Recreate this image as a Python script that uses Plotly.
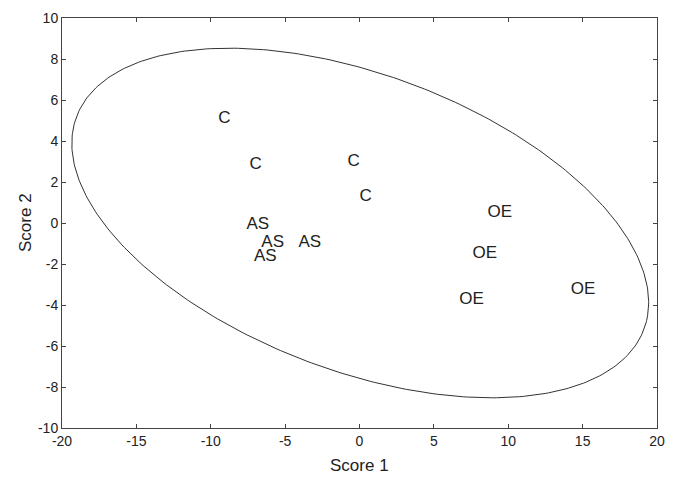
import numpy as np
import plotly.graph_objects as go

# Labelled score points
labels = ["C", "C", "C", "C", "AS", "AS", "AS", "AS", "OE", "OE", "OE", "OE"]
score1 = [-9.5, -7.4, -0.8, 0.0, -7.6, -6.6, -4.1, -7.1, 8.6, 7.6, 6.7, 14.2]
score2 = [5.1, 2.85, 3.0, 1.3, -0.1, -0.95, -0.95, -1.65, 0.5, -1.5, -3.75, -3.25]

# Confidence ellipse parameters
ell_center = (0.05, 0.0)
ell_semi = (19.84, 7.42)
ell_angle_deg = -13.2

x_ticks = [-20, -15, -10, -5, 0, 5, 10, 15, 20]
y_ticks = [-10, -8, -6, -4, -2, 0, 2, 4, 6, 8, 10]

t = np.linspace(0, 2 * np.pi, 400)
th = np.deg2rad(ell_angle_deg)
ex = ell_center[0] + ell_semi[0] * np.cos(t) * np.cos(th) - ell_semi[1] * np.sin(t) * np.sin(th)
ey = ell_center[1] + ell_semi[0] * np.cos(t) * np.sin(th) + ell_semi[1] * np.sin(t) * np.cos(th)

font = "Liberation Sans, Arial, sans-serif"

fig = go.Figure()
fig.add_trace(go.Scatter(x=ex, y=ey, mode="lines",
                         line=dict(color="#333333", width=1), hoverinfo="skip"))
fig.add_trace(go.Scatter(x=score1, y=score2, mode="text", text=labels,
                         textposition="middle right",
                         textfont=dict(family=font, size=17, color="#222222")))

axis_common = dict(showgrid=False, zeroline=False, showline=True, linecolor="#444444",
                   linewidth=1, mirror="ticks", ticks="inside", ticklen=4, automargin=False,
                   tickcolor="#444444", tickfont=dict(family=font, size=14, color="#222222"))

fig.update_layout(
    width=673, height=471,
    margin=dict(l=54, r=24, t=10, b=51),
    paper_bgcolor="white", plot_bgcolor="white",
    showlegend=False,
    xaxis=dict(range=[-20, 20], tickvals=x_ticks, ticktext=[str(v) for v in x_ticks],
               **axis_common),
    yaxis=dict(range=[-10, 10], tickvals=y_ticks, ticktext=[str(v) for v in y_ticks],
               **axis_common),
    annotations=[
        dict(text="Score 1", xref="paper", yref="paper", x=0.5, y=0, yshift=-37,
             xanchor="center", yanchor="middle", showarrow=False,
             font=dict(family=font, size=17, color="#222222")),
        dict(text="Score 2", xref="paper", yref="paper", x=0, y=0.5, xshift=-37,
             xanchor="center", yanchor="middle", textangle=-90, showarrow=False,
             font=dict(family=font, size=17, color="#222222")),
    ],
)
fig.write_html("out.html")
